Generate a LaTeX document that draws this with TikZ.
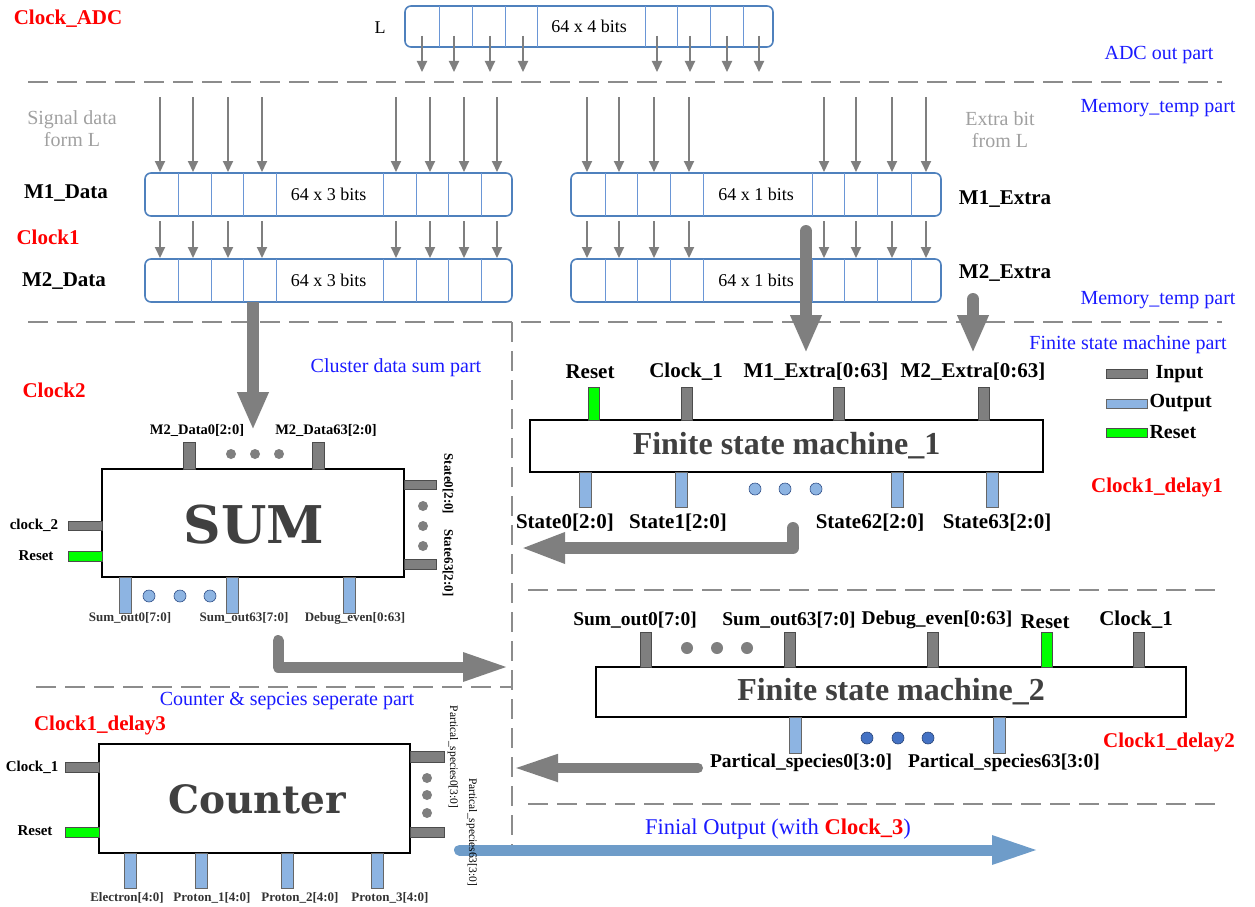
\documentclass[tikz,border=0pt]{standalone}
\usepackage{fontspec}
\setmainfont{Liberation Serif}
\newfontfamily\blockfont{DejaVu Serif}
\usetikzlibrary{arrows.meta}
\definecolor{BoxBlue}{HTML}{4F81BD}
\definecolor{CellBlue}{HTML}{6A96D6}
\definecolor{ArrGray}{HTML}{7F7F7F}
\definecolor{DashGray}{HTML}{8C8C8C}
\definecolor{SrcGray}{HTML}{A0A0A0}
\definecolor{PinGray}{HTML}{7F7F7F}
\definecolor{PinBlue}{HTML}{8DB4E2}
\definecolor{DotBlue}{HTML}{4472C4}
\definecolor{PinGreen}{HTML}{00FF00}
\definecolor{ClockRed}{HTML}{FF0000}
\definecolor{PartBlue}{HTML}{1A1AFF}
\definecolor{OutBlue}{HTML}{6E9CC9}
\definecolor{TitleGray}{HTML}{404040}

\begin{document}
\begin{tikzpicture}[x=1pt,y=-1pt,
  sect/.style={text=PartBlue,font=\fontsize{20}{22}\selectfont},
  clk/.style={text=ClockRed,font=\fontsize{21}{23}\selectfont\bfseries},
  reglbl/.style={font=\fontsize{21}{23}\selectfont\bfseries},
  srclbl/.style={text=SrcGray,align=center,font=\fontsize{20}{22}\selectfont},
  mem/.style={draw=BoxBlue,line width=1.6pt,rounded corners=6pt,fill=white,
              font=\fontsize{18}{20}\selectfont},
  cell/.style={draw=CellBlue,line width=1pt},
  bitarr/.style={draw=ArrGray,line width=2pt,-{Triangle[length=11pt,width=10pt]}},
  fat/.style={draw=ArrGray,line width=12pt,line cap=round,line join=round,
              -{Triangle[length=38pt,width=29pt]}},
  sepline/.style={draw=DashGray,line width=2.2pt,dash pattern=on 20pt off 9pt},
  blk/.style={draw=black,line width=2.6pt,fill=white,inner sep=0pt},
  fsmtitle/.style={text=TitleGray,font=\fontsize{32}{34}\selectfont\bfseries},
  blktitle/.style={text=TitleGray,font=\blockfont\bfseries},
  pinin/.style={draw=black!70,fill=PinGray,line width=0.6pt},
  pinout/.style={draw=black!60,fill=PinBlue,line width=0.6pt},
  pinrst/.style={draw=black!70,fill=PinGreen,line width=0.6pt},
  pinlbl/.style={font=\fontsize{21}{23}\selectfont\bfseries},
  fsmBlbl/.style={font=\fontsize{19.5}{21}\selectfont\bfseries},
  smlbl/.style={font=\fontsize{14.5}{16}\selectfont\bfseries},
  tinylbl/.style={font=\fontsize{13}{15}\selectfont\bfseries,text=black!80},
  rotlbl/.style={font=\fontsize{11.5}{13}\selectfont,rotate=-90},
  grdot/.style={fill=PinGray},
  bldot/.style={draw=DotBlue!70!black,fill=PinBlue,line width=0.6pt}
]
\useasboundingbox (0,0) rectangle (1255,907);

\node[clk] (clkadc) at (68,19) {Clock\_ADC};
\node[font=\fontsize{18}{20}\selectfont] (lsrc) at (380,28) {L};
\node[mem,minimum width=368pt,minimum height=41pt] (adc) at (589,26.5) {64 x 4 bits};
\foreach \x in {439,472,505,537,645,677,710,743}
  \draw[cell] (\x,6) -- (\x,47);
\foreach \x [count=\i] in {422,454,490,523,657,690,727,759} {
  \coordinate (adcA\i) at (\x,36);
  \coordinate (adcB\i) at (\x,72);
  \draw[bitarr] (adcA\i) -- (adcB\i);
}
\node[sect] (adcpart) at (1159,55) {ADC out part};
\draw[sepline] (28,82) -- (1222,82);

\node[sect] (mempartA) at (1158,108) {Memory\_temp part};
\node[srclbl] (sigsrc) at (72,129) {Signal data\\form L};
\node[srclbl] (xsrc) at (1000,130) {Extra bit\\from L};
\node[reglbl] (m1dlbl) at (66,193) {M1\_Data};
\node[clk] (clk1) at (48,237) {Clock1};
\node[reglbl] (m2dlbl) at (64,281) {M2\_Data};
\node[reglbl] (m1xlbl) at (1005,199) {M1\_Extra};
\node[reglbl] (m2xlbl) at (1005,273) {M2\_Extra};
\node[sect] (mempartB) at (1158,300) {Memory\_temp part};

\node[mem,minimum width=367pt,minimum height=43pt] (m1d) at (328.5,194.5) {64 x 3 bits};
\node[mem,minimum width=367pt,minimum height=43pt] (m2d) at (328.5,280.5) {64 x 3 bits};
\node[mem,minimum width=370pt,minimum height=43pt] (m1x) at (756,194.5) {64 x 1 bits};
\node[mem,minimum width=370pt,minimum height=43pt] (m2x) at (756,280.5) {64 x 1 bits};
\foreach \y in {173,259} {
  \foreach \x in {178,211,243,276,383,416,448,481,605,637,670,703,812,844,877,911}
    \draw[cell] (\x,\y) -- (\x,\y+43);
}
\foreach \x [count=\i] in {160,193,228,262,396,430,464,497,587,619,654,689,824,856,892,926} {
  \coordinate (inA\i) at (\x,97);
  \coordinate (inB\i) at (\x,172);
  \coordinate (midA\i) at (\x,221);
  \coordinate (midB\i) at (\x,258);
  \draw[bitarr] (inA\i) -- (inB\i);
  \draw[bitarr] (midA\i) -- (midB\i);
}
\draw[sepline] (28,322) -- (1222,322);
\coordinate (m2dout) at (253,302);
\coordinate (sumin) at (253,430);
\draw[fat,line cap=butt] (m2dout) -- (sumin);
\coordinate (m1xout) at (806,231);
\coordinate (fsmAin) at (806,353);
\draw[fat] (m1xout) -- (fsmAin);
\coordinate (m2xout) at (973,299);
\coordinate (fsmBin) at (973,353);
\draw[fat] (m2xout) -- (fsmBin);

\draw[sepline] (512,322) -- (512,846);
\draw[sepline] (528,590) -- (1222,590);
\draw[sepline] (36,687) -- (512,687);
\draw[sepline] (528,804) -- (1222,804);

\node[sect] (sumpart) at (396,368) {Cluster data sum part};
\node[clk] (clk2) at (54,390) {Clock2};
\node[blk,minimum width=302pt,minimum height=108pt] (sum) at (253,523) {};
\node[blktitle,font=\blockfont\bfseries\fontsize{52}{52}\selectfont] (sumtxt) at (254,525) {SUM};
\foreach \x in {189.5,318} \draw[pinin] (\x-6,442) rectangle (\x+6,469);
\node[smlbl] (sumdA) at (197,430) {M2\_Data0[2:0]};
\node[smlbl] (sumdB) at (326,430) {M2\_Data63[2:0]};
\foreach \x in {231,255,279} \fill[grdot] (\x,454) circle (5pt);
\draw[pinin] (68,521) rectangle (102,530);
\draw[pinrst] (68,551) rectangle (102,561);
\node[font=\fontsize{15}{17}\selectfont\bfseries] (sumclk) at (34,525) {clock\_2};
\node[font=\fontsize{15}{17}\selectfont\bfseries] (sumrst) at (36,556) {Reset};
\draw[pinin] (404,480) rectangle (436,489);
\draw[pinin] (404,559) rectangle (436,569);
\foreach \y in {506,526,546} \fill[grdot] (423,\y) circle (5pt);
\node[tinylbl,text=black,rotate=-90] (sumsA) at (448,484) {State0[2:0]};
\node[tinylbl,text=black,rotate=-90] (sumsB) at (448,563) {State63[2:0]};
\foreach \x in {125,232.5,349} \draw[pinout] (\x-6,577) rectangle (\x+6,613);
\foreach \x in {149,180,210} \draw[bldot] (\x,596) circle (6pt);
\node[tinylbl] (sumoA) at (130,618) {Sum\_out0[7:0]};
\node[tinylbl] (sumoB) at (244,618) {Sum\_out63[7:0]};
\node[tinylbl] (sumdbg) at (355,618) {Debug\_even[0:63]};
\coordinate (sumout) at (278,640.5);
\coordinate (fsmCin) at (510,667);
\draw[fat,line width=11pt,-{Triangle[length=47pt,width=26pt]}] (sumout) |- (fsmCin);

\node[sect] (fsmpart) at (1128,345) {Finite state machine part};
\node[blk,minimum width=513pt,minimum height=52pt] (fsmA) at (786.5,446) {};
\node[fsmtitle] (fsmAtxt) at (786.5,446) {Finite state machine\_1};
\draw[pinrst] (588,387) rectangle (599,420);
\foreach \x in {686.5,838.5,984} \draw[pinin] (\x-5.5,387) rectangle (\x+5.5,420);
\node[pinlbl] (fsmArst) at (590,372) {Reset};
\node[pinlbl] (fsmAclk) at (686,372) {Clock\_1};
\node[pinlbl] (fsmAm1) at (816,372) {M1\_Extra[0:63]};
\node[pinlbl] (fsmAm2) at (973,372) {M2\_Extra[0:63]};
\draw[pinin] (1106,369) rectangle (1147,378);
\draw[pinout] (1106,399) rectangle (1147,408);
\draw[pinrst] (1106,428) rectangle (1147,437);
\node[pinlbl,font=\fontsize{20}{22}\selectfont\bfseries,anchor=west] (keyin) at (1152,374) {Input};
\node[pinlbl,font=\fontsize{20}{22}\selectfont\bfseries,anchor=west] (keyout) at (1146,403) {Output};
\node[pinlbl,font=\fontsize{20}{22}\selectfont\bfseries,anchor=west] (keyrst) at (1146,432) {Reset};
\foreach \x in {585,681.5,897,992.5} \draw[pinout] (\x-6,472) rectangle (\x+6,507);
\foreach \x in {755,785,816} \draw[bldot] (\x,489) circle (6pt);
\node[pinlbl] (fsmAsA) at (565,523) {State0[2:0]};
\node[pinlbl] (fsmAsB) at (678,523) {State1[2:0]};
\node[pinlbl] (fsmAsC) at (870,523) {State62[2:0]};
\node[pinlbl] (fsmAsD) at (997,523) {State63[2:0]};
\node[clk] (clkd1) at (1157,487) {Clock1\_delay1};
\coordinate (fsmAout) at (793,528);
\coordinate (sumsin) at (520,548);
\draw[fat,line width=12pt,-{Triangle[length=45pt,width=28pt]}] (fsmAout) |- (sumsin);

\node[blk,minimum width=590pt,minimum height=50pt] (fsmB) at (891,692) {};
\node[fsmtitle] (fsmBtxt) at (891,692) {Finite state machine\_2};
\foreach \x in {645.5,789.5,932.5,1138.5} \draw[pinin] (\x-5.5,632) rectangle (\x+5.5,667);
\draw[pinrst] (1041,632) rectangle (1052,667);
\foreach \x in {687,717,747} \fill[grdot] (\x,648) circle (6pt);
\node[fsmBlbl] (fsmBiA) at (635,620) {Sum\_out0[7:0]};
\node[fsmBlbl] (fsmBiB) at (789,620) {Sum\_out63[7:0]};
\node[fsmBlbl] (fsmBiC) at (937,620) {Debug\_even[0:63]};
\node[pinlbl] (fsmBrst) at (1045,622) {Reset};
\node[pinlbl] (fsmBclk) at (1136,620) {Clock\_1};
\foreach \x in {795,999.5} \draw[pinout] (\x-6,717) rectangle (\x+6,753);
\foreach \x in {867,898,928} \draw[draw=DotBlue!60!black,fill=DotBlue,line width=0.6pt] (\x,738) circle (6pt);
\node[fsmBlbl] (fsmBoA) at (801,763) {Partical\_species0[3:0]};
\node[fsmBlbl] (fsmBoB) at (1004,763) {Partical\_species63[3:0]};
\node[clk] (clkd2) at (1169,742) {Clock1\_delay2};
\coordinate (fsmBout) at (698,768);
\coordinate (cntin) at (513,768);
\draw[fat,line width=10pt,-{Triangle[length=45pt,width=25pt]}] (fsmBout) -- (cntin);

\node[sect] (cntpart) at (287,701) {Counter \& sepcies seperate part};
\node[clk] (clkd3) at (100,725) {Clock1\_delay3};
\node[blk,minimum width=311pt,minimum height=109pt] (cnt) at (254.5,798.5) {};
\node[blktitle,font=\blockfont\bfseries\fontsize{39}{39}\selectfont] (cnttxt) at (257,799) {Counter};
\draw[pinin] (65,762) rectangle (99,772);
\draw[pinrst] (65,827) rectangle (99,837);
\node[font=\fontsize{15}{17}\selectfont\bfseries] (cntclk) at (32,767) {Clock\_1};
\node[font=\fontsize{15}{17}\selectfont\bfseries] (cntrst) at (35,831) {Reset};
\draw[pinin] (410,751) rectangle (444,762);
\draw[pinin] (410,827) rectangle (444,837);
\foreach \y in {778,795,813} \fill[grdot] (427,\y) circle (5pt);
\foreach \x in {130,201,287,377.5} \draw[pinout] (\x-6,853) rectangle (\x+6,888);
\node[tinylbl] (cntoA) at (127,898) {Electron[4:0]};
\node[tinylbl] (cntoB) at (212,898) {Proton\_1[4:0]};
\node[tinylbl] (cntoC) at (300,898) {Proton\_2[4:0]};
\node[tinylbl] (cntoD) at (390,898) {Proton\_3[4:0]};
\coordinate (cntout) at (459.5,850);
\coordinate (finout) at (1040,850);
\draw[fat,draw=OutBlue,line width=11pt,-{Triangle[length=48pt,width=26pt]}] (cntout) -- (finout);
\node[rotlbl] (cntsA) at (453,757) {Partical\_species0[3:0]};
\node[rotlbl] (cntsB) at (472,832) {Partical\_species63[3:0]};
\node[sect,font=\fontsize{22.5}{24}\selectfont] (finlbl) at (778,829)
  {Finial Output (with \textcolor{ClockRed}{\textbf{Clock\_3}})};
\end{tikzpicture}
\end{document}
